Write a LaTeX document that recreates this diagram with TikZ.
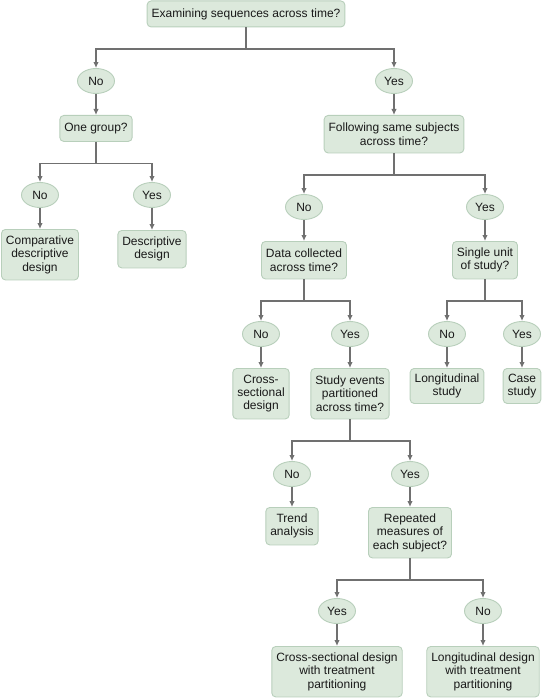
\documentclass[tikz,border=0pt]{standalone}
\usepackage{fontspec}
\setmainfont{Liberation Sans}
\usetikzlibrary{arrows.meta,shapes.geometric}

\definecolor{boxfill}{RGB}{220, 233, 220}
\definecolor{boxline}{RGB}{184, 207, 187}
\definecolor{linkgray}{RGB}{112, 112, 112}

\begin{document}
\begin{tikzpicture}[x=1pt, y=-1pt,
    every node/.style={font=\fontsize{12}{13.2}\selectfont, text=black!90},
    qbox/.style={draw=boxline, fill=boxfill, line width=0.9pt, rounded corners=4pt,
      align=center, inner xsep=4.5pt, inner ysep=0pt, anchor=north},
    h1/.style={minimum height=26pt},
    h2/.style={minimum height=37.5pt},
    h3/.style={minimum height=50.5pt},
    ans/.style={ellipse, draw=boxline, fill=boxfill, line width=0.9pt,
      minimum width=37pt, minimum height=25pt, inner sep=0pt},
    link/.style={draw=linkgray, line width=1.6pt, -{Latex[length=6pt,width=5.5pt]}}]
  \useasboundingbox (0,0) rectangle (543,698);
        \node[qbox, h1] (top) at (246,0.5) {Examining sequences across time?};
        \node[ans] (no1) at (96,81) {No};
        \node[ans] (yes1) at (394,81) {Yes};
        \node[qbox, h1] (grp) at (96,115) {One group?};
        \node[qbox, h2] (follow) at (394,115) {Following same subjects\\across time?};
        \node[ans] (no2) at (40,195) {No};
        \node[ans] (yes2) at (152,195) {Yes};
        \node[qbox, h3] (comp) at (40,229) {Comparative\\descriptive\\design};
        \node[qbox, h2] (desc) at (152,230) {Descriptive\\design};
        \node[ans] (no3) at (304,207) {No};
        \node[ans] (yes3) at (485,207) {Yes};
        \node[qbox, h2] (data) at (304,241) {Data collected\\across time?};
        \node[qbox, h2] (single) at (485,241) {Single unit\\of study?};
        \node[ans] (no4) at (261,334) {No};
        \node[ans] (yes4) at (350,334) {Yes};
        \node[ans] (no5) at (447,334) {No};
        \node[ans] (yes5) at (522,334) {Yes};
        \node[qbox, h3] (cross) at (261,368) {Cross-\\sectional\\design};
        \node[qbox, h3] (events) at (350,368) {Study events\\partitioned\\across time?};
        \node[qbox, minimum height=35pt] (longi) at (447,368) {Longitudinal\\study};
        \node[qbox, minimum height=35pt] (case) at (522,368) {Case\\study};
        \node[ans] (no6) at (292,474) {No};
        \node[ans] (yes6) at (410,474) {Yes};
        \node[qbox, h2] (trend) at (292,507) {Trend\\analysis};
        \node[qbox, h3] (rep) at (410,507) {Repeated\\measures of\\each subject?};
        \node[ans] (yes7) at (337,611) {Yes};
        \node[ans] (no7) at (483,611) {No};
        \node[qbox, h3] (crosst) at (337,646) {Cross-sectional design\\with treatment\\partitioning};
        \node[qbox, h3] (longt) at (483,646) {Longitudinal design\\with treatment\\partitioning};
        \draw[link] (top.south) -- ++(0,21.5) -| (no1.north);
        \draw[link] (top.south) -- ++(0,21.5) -| (yes1.north);
        \draw[link] (no1) -- (grp);
        \draw[link] (yes1) -- (follow);
        \draw[link] (grp.south) -- ++(0,21.5) -| (no2.north);
        \draw[link] (grp.south) -- ++(0,21.5) -| (yes2.north);
        \draw[link] (no2) -- (comp);
        \draw[link] (yes2) -- (desc);
        \draw[link] (follow.south) -- ++(0,21.5) -| (no3.north);
        \draw[link] (follow.south) -- ++(0,21.5) -| (yes3.north);
        \draw[link] (no3) -- (data);
        \draw[link] (yes3) -- (single);
        \draw[link] (data.south) -- ++(0,21.5) -| (no4.north);
        \draw[link] (data.south) -- ++(0,21.5) -| (yes4.north);
        \draw[link] (single.south) -- ++(0,21.5) -| (no5.north);
        \draw[link] (single.south) -- ++(0,21.5) -| (yes5.north);
        \draw[link] (no4) -- (cross);
        \draw[link] (yes4) -- (events);
        \draw[link] (no5) -- (longi);
        \draw[link] (yes5) -- (case);
        \draw[link] (events.south) -- ++(0,21.5) -| (no6.north);
        \draw[link] (events.south) -- ++(0,21.5) -| (yes6.north);
        \draw[link] (no6) -- (trend);
        \draw[link] (yes6) -- (rep);
        \draw[link] (rep.south) -- ++(0,21.5) -| (yes7.north);
        \draw[link] (rep.south) -- ++(0,21.5) -| (no7.north);
        \draw[link] (yes7) -- (crosst);
        \draw[link] (no7) -- (longt);
      \end{tikzpicture}
\end{document}
